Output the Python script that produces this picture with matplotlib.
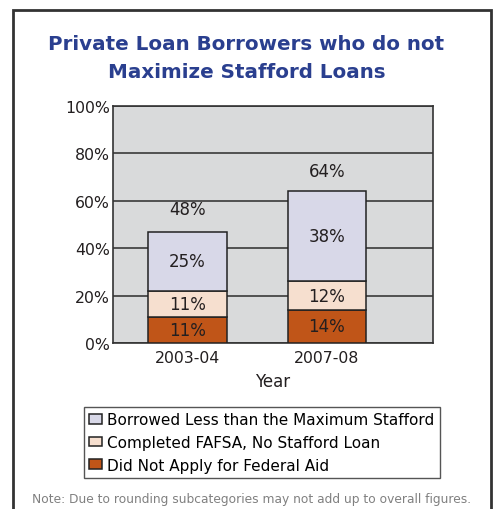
import matplotlib
matplotlib.use("Agg")
import matplotlib.pyplot as plt
import matplotlib.patches as mpatches
import numpy as np

years = ["2003-04", "2007-08"]
did_not_apply = [11, 14]
fafsa_no_stafford = [11, 12]
borrowed_less = [25, 38]
totals = [48, 64]
series_names = ["Borrowed Less than the Maximum Stafford",
                "Completed FAFSA, No Stafford Loan",
                "Did Not Apply for Federal Aid"]

c_less = "#d8d8e8"
c_fafsa = "#f6dfcf"
c_none = "#c05518"
edge = "#222222"
txt = "#231f20"

plt.rcParams['font.family'] = ['DejaVu Sans']

fig = plt.figure(figsize=(4.93, 5.10), dpi=100)

# outer frame around the whole graphic
fig.patches.append(mpatches.Rectangle((13 / 493, -0.05), 478 / 493, 1.05 - 11 / 510,
                                      transform=fig.transFigure, fill=False,
                                      edgecolor="#333333", linewidth=2.0))

fig.text(0.5, 1 - 44 / 510, "Private Loan Borrowers who do not", ha="center", va="center",
         color="#2a3f8f", fontsize=14.3, fontweight="bold")
fig.text(0.5, 1 - 73 / 510, "Maximize Stafford Loans", ha="center", va="center",
         color="#2a3f8f", fontsize=14.3, fontweight="bold")

ax = fig.add_axes([113 / 493, 1 - 344 / 510, 320 / 493, 237 / 510])
ax.set_facecolor("#d9dadb")
ax.set_xlim(-0.534, 1.76)
ax.set_ylim(0, 100)

x = np.arange(len(years))
w = 0.566
b1 = ax.bar(x, did_not_apply, w, color=c_none, edgecolor=edge, linewidth=1.1, zorder=3)
bottom2 = np.array(did_not_apply)
b2 = ax.bar(x, fafsa_no_stafford, w, bottom=bottom2, color=c_fafsa, edgecolor=edge,
            linewidth=1.1, zorder=3)
bottom3 = bottom2 + np.array(fafsa_no_stafford)
b3 = ax.bar(x, borrowed_less, w, bottom=bottom3, color=c_less, edgecolor=edge,
            linewidth=1.1, zorder=3)

for i in range(len(years)):
    ax.text(x[i], did_not_apply[i] / 2, f"{did_not_apply[i]}%", ha="center", va="center",
            fontsize=12, color=txt, zorder=4)
    ax.text(x[i], bottom2[i] + fafsa_no_stafford[i] / 2, f"{fafsa_no_stafford[i]}%",
            ha="center", va="center", fontsize=12, color=txt, zorder=4)
    ax.text(x[i], bottom3[i] + borrowed_less[i] / 2, f"{borrowed_less[i]}%",
            ha="center", va="center", fontsize=12, color=txt, zorder=4)
    ax.text(x[i], totals[i] + 8.5, f"{totals[i]}%", ha="center", va="center",
            fontsize=12, color=txt, zorder=4)

ax.set_yticks(np.arange(0, 101, 20))
ax.set_yticklabels([f"{v}%" for v in range(0, 101, 20)], fontsize=11.3, color=txt)
ax.set_xticks(x)
ax.set_xticklabels(years, fontsize=11.3, color=txt)
ax.tick_params(axis="x", length=0, pad=5)
ax.tick_params(axis="y", length=0, pad=2)
ax.grid(axis="y", color="#3a3a3a", linewidth=1.2, zorder=1)
ax.set_axisbelow(True)
for s in ax.spines.values():
    s.set_color("#333333")
    s.set_linewidth(1.2)
ax.set_xlabel("Year", fontsize=12, color=txt, labelpad=5)

handles = [b3, b2, b1]
fig.legend(handles, series_names, loc="upper left",
           bbox_to_anchor=(84 / 493, 1 - 408 / 510), fontsize=11, frameon=True,
           fancybox=False, edgecolor="#555555", handlelength=0.85, handleheight=0.6,
           handletextpad=0.3, labelspacing=0.5, borderpad=0.35, borderaxespad=0,
           framealpha=1)

fig.text(0.511, 1 - 500 / 510,
         "Note: Due to rounding subcategories may not add up to overall figures.",
         ha="center", va="center", fontsize=8.8, color="#808080")

fig.savefig("out.png", dpi=100, facecolor="white")
